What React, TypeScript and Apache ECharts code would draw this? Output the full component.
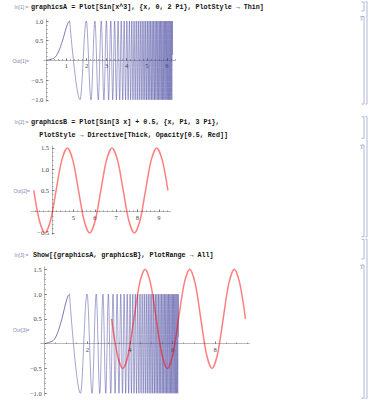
import React, { useEffect, useRef } from "react";
import * as echarts from "echarts";

// ---- graphicsA: Plot[Sin[x^3], {x, 0, 2 Pi}] ----
// rising start of the curve (x, y)
const sinCubeStartX = [0, 0.4, 0.6, 0.8, 0.9, 1.0, 1.1, 1.1624];
const sinCubeStartY = [0, 0.064, 0.214, 0.49, 0.666, 0.841, 0.971, 1];
// successive peaks / troughs, then the end point at 2 Pi
const sinCubeExtremaX = [
  1.1624, 1.6765, 1.9878, 2.2237, 2.418, 2.5853, 2.7333, 2.8668, 2.989, 3.1019,
  3.2071, 3.3058, 3.399, 3.4873, 3.5714, 3.6517, 3.7286, 3.8024, 3.8735, 3.9421,
  4.0084, 4.0725, 4.1347, 4.1951, 4.2537, 4.3109, 4.3665, 4.4207, 4.4737, 4.5254,
  4.576, 4.6254, 4.6739, 4.7213, 4.7679, 4.8135, 4.8583, 4.9022, 4.9454, 4.9879,
  5.0296, 5.0707, 5.1111, 5.1509, 5.19, 5.2286, 5.2666, 5.3041, 5.3411, 5.3776,
  5.4135, 5.449, 5.4841, 5.5187, 5.5528, 5.5866, 5.62, 5.6529, 5.6855, 5.7177,
  5.7496, 5.7811, 5.8122, 5.8431, 5.8736, 5.9038, 5.9337, 5.9633, 5.9926, 6.0216,
  6.0503, 6.0788, 6.107, 6.135, 6.1627, 6.1901, 6.2173, 6.2443, 6.271, 6.2832,
];
const sinCubeExtremaY = [
  1, -1, 1, -1, 1, -1, 1, -1, 1, -1,
  1, -1, 1, -1, 1, -1, 1, -1, 1, -1,
  1, -1, 1, -1, 1, -1, 1, -1, 1, -1,
  1, -1, 1, -1, 1, -1, 1, -1, 1, -1,
  1, -1, 1, -1, 1, -1, 1, -1, 1, -1,
  1, -1, 1, -1, 1, -1, 1, -1, 1, -1,
  1, -1, 1, -1, 1, -1, 1, -1, 1, -1,
  1, -1, 1, -1, 1, -1, 1, -1, 1, 0.135,
];

// ---- graphicsB: Plot[Sin[3 x] + 0.5, {x, Pi, 3 Pi}] ----
const sinThreeX = [
  3.1416, 3.4034, 3.6652, 3.927, 4.1888, 4.4506, 4.7124, 4.9742, 5.236, 5.4978,
  5.7596, 6.0214, 6.2832, 6.545, 6.8068, 7.0686, 7.3304, 7.5922, 7.854, 8.1158,
  8.3776, 8.6394, 8.9012, 9.163, 9.4248,
];
const sinThreeY = [
  0.5, -0.207, -0.5, -0.207, 0.5, 1.207, 1.5, 1.207, 0.5, -0.207,
  -0.5, -0.207, 0.5, 1.207, 1.5, 1.207, 0.5, -0.207, -0.5, -0.207,
  0.5, 1.207, 1.5, 1.207, 0.5,
];

// ---- tick labels ----
const xLabelsA = [1, 2, 3, 4, 5, 6];
const yLabelsA = [-1, -0.5, 0.5, 1];
const xLabelsB = [5, 6, 7, 8, 9];
const yLabelsB = [-0.5, 0.5, 1, 1.5];
const xLabelsC = [2, 4, 6, 8];
const yLabelsC = [-1, -0.5, 0.5, 1, 1.5];

// ---- notebook texts ----
const inLabels = ["In[1]:=", "In[2]:=", "In[3]:="];
const outLabels = ["Out[1]=", "Out[2]=", "Out[3]="];
const code1 = "graphicsA = Plot[Sin[x^3], {x, 0, 2 Pi}, PlotStyle \u2192 Thin]";
const code2a = "graphicsB = Plot[Sin[3 x] + 0.5, {x, Pi, 3 Pi},";
const code2b = "PlotStyle \u2192 Directive[Thick, Opacity[0.5, Red]]";
const code3 = "Show[{graphicsA, graphicsB}, PlotRange \u2192 All]";

const BLUE = "#3d3d99";
const RED = "rgba(255,0,0,0.5)";
const LBL = "#7f8ab5";
const BR = "#9ca5cc";

const zip = (xs: number[], ys: number[]) => xs.map((x, i) => [x, ys[i]]);
const steps = (a: number, b: number, s: number) => {
  const out: number[] = [];
  for (let v = a; v <= b + 1e-9; v += s) out.push(+v.toFixed(4));
  return out;
};

const tickFont = { fontFamily: "Liberation Serif", fontSize: 6.5, color: "#444" };
const fmtY = (v: number) => (v < 0 ? "\u2212" : "") + Math.abs(v).toFixed(1);
const fmtX = (v: number) => String(v);

type P = {
  xmin: number; xmax: number; ymin: number; ymax: number;
  left: number; top: number; width: number; height: number;
  yAxisAt: number;
  xLabels: number[]; yLabels: number[]; xMinor: number[]; yMinor: number[];
};

function buildPlot(p: P, gi: number) {
  const grids = [0, 1].map(() => ({
    left: p.left, top: p.top, width: p.width, height: p.height,
    containLabel: false, outerBoundsMode: "none",
  }));
  // axis crossing: x-axis at y = 0, y-axis at x = yAxisAt
  const zeroPy = p.top + (p.height * p.ymax) / (p.ymax - p.ymin);
  const xOffset = -(p.top + p.height - zeroPy);
  const yOffset = -((p.width * (p.yAxisAt - p.xmin)) / (p.xmax - p.xmin));
  const xAxes = [
    {
      type: "value", gridIndex: gi, min: p.xmin, max: p.xmax, position: "bottom", offset: xOffset,
      axisLine: { show: true, onZero: false, lineStyle: { color: "#a8a8a8", width: 0.8 } },
      axisTick: { show: true, inside: true, length: 2.2, customValues: p.xLabels, lineStyle: { color: "#555", width: 0.7 } },
      axisLabel: { show: true, customValues: p.xLabels, formatter: fmtX, margin: 2, ...tickFont },
      splitLine: { show: false },
    },
    {
      type: "value", gridIndex: gi + 1, min: p.xmin, max: p.xmax, position: "bottom", offset: xOffset,
      axisLine: { show: false, onZero: false },
      axisTick: { show: true, inside: true, length: 1.3, customValues: p.xMinor, lineStyle: { color: "#666", width: 0.6 } },
      axisLabel: { show: false },
      splitLine: { show: false },
    },
  ];
  const yAxes = [
    {
      type: "value", gridIndex: gi, min: p.ymin, max: p.ymax, position: "left", offset: yOffset,
      axisLine: { show: true, onZero: false, lineStyle: { color: "#a8a8a8", width: 0.8 } },
      axisTick: { show: true, inside: true, length: 2.2, customValues: p.yLabels, lineStyle: { color: "#555", width: 0.7 } },
      axisLabel: { show: true, customValues: p.yLabels, formatter: fmtY, margin: 3, ...tickFont },
      splitLine: { show: false },
    },
    {
      type: "value", gridIndex: gi + 1, min: p.ymin, max: p.ymax, position: "left", offset: yOffset,
      axisLine: { show: false, onZero: false },
      axisTick: { show: true, inside: true, length: 1.3, customValues: p.yMinor, lineStyle: { color: "#666", width: 0.6 } },
      axisLabel: { show: false },
      splitLine: { show: false },
    },
  ];
  return { grids, xAxes, yAxes };
}

const plotA: P = {
  xmin: -0.126, xmax: 6.409, ymin: -1.05, ymax: 1.05,
  left: 43.77, top: 19.03, width: 131.35, height: 82.74, yAxisAt: 0,
  xLabels: xLabelsA, yLabels: yLabelsA, xMinor: steps(0.2, 6.4, 0.2), yMinor: steps(-1, 1, 0.1),
};
const plotB: P = {
  xmin: 3.0159, xmax: 9.5505, ymin: -0.54, ymax: 1.54,
  left: 31.09, top: 146.25, width: 139.51, height: 88.4, yAxisAt: 4,
  xLabels: xLabelsB, yLabels: yLabelsB, xMinor: steps(3.2, 9.4, 0.2), yMinor: steps(-0.5, 1.5, 0.1),
};
const plotC: P = {
  xmin: -0.1885, xmax: 9.6133, ymin: -1.05, ymax: 1.55,
  left: 40.69, top: 266.82, width: 208.78, height: 128.96, yAxisAt: 0,
  xLabels: xLabelsC, yLabels: yLabelsC, xMinor: steps(0.5, 9.5, 0.5), yMinor: steps(-1, 1.5, 0.1),
};

function blueSeries(axisIndex: number) {
  const common = { type: "line", xAxisIndex: axisIndex, yAxisIndex: axisIndex, symbol: "none", showSymbol: false, silent: true, z: 2 };
  return [
    { ...common, data: zip(sinCubeStartX, sinCubeStartY), smooth: 0.3, lineStyle: { color: BLUE, width: 0.7 } },
    { ...common, data: zip(sinCubeExtremaX, sinCubeExtremaY), smooth: 0.363, smoothMonotone: "x", lineStyle: { color: BLUE, width: 0.55, opacity: 0.85 } },
  ];
}
function redSeries(axisIndex: number) {
  return {
    type: "line", xAxisIndex: axisIndex, yAxisIndex: axisIndex, symbol: "none", showSymbol: false, silent: true, z: 3,
    data: zip(sinThreeX, sinThreeY), smooth: 0.3, lineStyle: { color: RED, width: 1.5 },
  };
}

function bracket(x: number, y1: number, y2: number, hook: number) {
  return {
    type: "polyline",
    shape: { points: [[x - hook, y1], [x, y1], [x, y2], [x - hook, y2]] },
    style: { stroke: BR, lineWidth: 0.8, fill: null },
    silent: true,
  };
}
function outMark(x: number, y: number) {
  return {
    type: "polyline",
    shape: { points: [[x - 3, y], [x - 0.5, y], [x - 2, y + 1.6], [x - 0.5, y + 2.6], [x - 2.5, y + 3.6]] },
    style: { stroke: BR, lineWidth: 0.7, fill: null },
    silent: true,
  };
}
function txt(text: string, x: number, y: number, font: string, fill: string, align: string) {
  return {
    type: "text", x, y, silent: true,
    style: { text, font, fill, textAlign: align, textVerticalAlign: "middle", align, verticalAlign: "middle" },
  };
}

export default function App() {
  const ref = useRef<HTMLDivElement>(null);
  useEffect(() => {
    if (!ref.current) return;
    const chart = echarts.init(ref.current, undefined, { renderer: "svg" });
    const a = buildPlot(plotA, 0);
    const b = buildPlot(plotB, 2);
    const c = buildPlot(plotC, 4);
    const codeFont = 'bold 6.7px "Liberation Mono"';
    const lblFont = '5px "Liberation Sans"';
    const graphic = [
      txt(inLabels[0], 28.5, 7, lblFont, LBL, "right"),
      txt(code1, 31, 7, codeFont, "#111", "left"),
      txt(outLabels[0], 29, 60.7, lblFont, LBL, "right"),
      txt(inLabels[1], 28.5, 122.3, lblFont, LBL, "right"),
      txt(code2a, 31, 122.3, codeFont, "#111", "left"),
      txt(code2b, 39.3, 135, codeFont, "#111", "left"),
      txt(outLabels[1], 30, 191, lblFont, LBL, "right"),
      txt(inLabels[2], 28.5, 255, lblFont, LBL, "right"),
      txt(code3, 33, 255, codeFont, "#111", "left"),
      txt(outLabels[2], 29.5, 330, lblFont, LBL, "right"),
      bracket(364, 2, 11, 2.5), bracket(364, 16.5, 104, 2.5), outMark(363, 16.8), bracket(367, 1.7, 104, 1.5),
      bracket(364, 116.7, 138.3, 2.5), bracket(364, 145, 236.7, 2.5), outMark(363, 145.3), bracket(367, 116.7, 236.7, 1.5),
      bracket(364, 239.3, 259, 2.5), bracket(364, 265, 398.3, 2.5), outMark(363, 265.3), bracket(367, 239.3, 398.3, 1.5),
    ];
    chart.setOption({
      animation: false,
      grid: [...a.grids, ...b.grids, ...c.grids],
      xAxis: [...a.xAxes, ...b.xAxes, ...c.xAxes],
      yAxis: [...a.yAxes, ...b.yAxes, ...c.yAxes],
      series: [...blueSeries(0), redSeries(2), ...blueSeries(4), redSeries(4)],
      graphic,
    } as any);
    return () => chart.dispose();
  }, []);
  return (
    <div
      ref={ref}
      style={{ position: "absolute", left: 0, top: 0, width: 369, height: 400, background: "#fff" }}
    />
  );
}
